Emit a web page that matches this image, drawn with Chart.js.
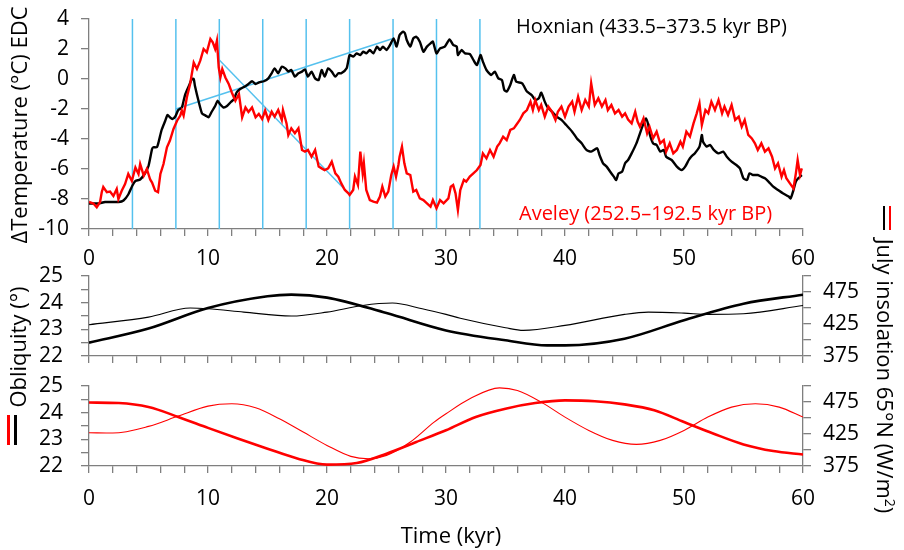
<!DOCTYPE html>
<html>
<head>
<meta charset="utf-8">
<script src="https://cdn.jsdelivr.net/npm/chart.js@4.4.0/dist/chart.umd.min.js"></script>
<style>
	body { margin: 0; background: #fff; width: 904px; height: 550px; position: relative; overflow: hidden; font-family: "Open Sans", sans-serif; }
	canvas { position: absolute; left: 0; }
	.lbl { position: absolute; white-space: nowrap; line-height: 1; }
	.rot { transform: translate(-50%, -50%) rotate(-90deg); font-size: 22px; }
	.rotR { transform: translate(-50%, -50%) rotate(90deg); font-size: 22px; }
	.bar { position: absolute; }
</style>
</head>
<body>
<canvas id="temp" width="904" height="275" style="top:0"></canvas>
<canvas id="mid" width="904" height="110" style="top:256px"></canvas>
<canvas id="bot" width="904" height="184" style="top:366px"></canvas>

<div class="lbl" style="left:516px;top:16px;font-size:20px;color:#000">Hoxnian (433.5–373.5 kyr BP)</div>
<div class="lbl" style="left:519px;top:203px;font-size:20px;color:#f00">Aveley (252.5–192.5 kyr BP)</div>
<div class="lbl rot" style="left:18px;top:125px">ΔTemperature (°C) EDC</div>
<div class="lbl rot" style="left:17px;top:347px">Obliquity (°)</div>
<div class="bar" style="left:7px;top:415px;width:3px;height:30px;background:#f00"></div>
<div class="bar" style="left:14px;top:415px;width:3px;height:30px;background:#000"></div>
<div class="lbl rotR" style="left:886px;top:376px">July insolation 65°N (W/m<sup style="font-size:14px;vertical-align:8px;line-height:0">2</sup>)</div>
<div class="bar" style="left:883px;top:206px;width:2px;height:24px;background:#000"></div>
<div class="bar" style="left:889px;top:206px;width:2px;height:24px;background:#f00"></div>
<div class="lbl" style="left:451px;top:534px;font-size:22px;transform:translate(-50%,-50%)">Time (kyr)</div>

<script>
// EDC temperature anomaly, [time kyr, deg C]
var hoxnianTemp = [
	[0,-8.3],[0.8,-8.3],[1.35,-8.2],[2.5,-8.2],[2.9,-8.1],[3.3,-7.7],[3.65,-7.1],[3.9,-6.8],[4.3,-6.7],[4.7,-6.3],
	[5.0,-5.8],[5.3,-4.67],[5.4,-4.55],[5.7,-4.55],[5.85,-4.2],[6.1,-3.4],[6.4,-2.8],[6.6,-2.4],[6.8,-2.55],[7.0,-2.67],
	[7.25,-2.5],[7.5,-2.07],[7.8,-1.9],[7.95,-1.45],[8.1,-1.0],[8.4,-0.45],[8.65,0.0],[8.8,0.0],[8.9,-0.45],[9.2,-1.45],
	[9.5,-2.3],[9.8,-2.44],[10.05,-2.55],[10.3,-2.2],[10.6,-1.8],[10.8,-1.45],[11.0,-1.67],[11.3,-1.9],[11.6,-1.8],[11.9,-1.55],
	[12.2,-1.33],[12.4,-0.9],[12.7,-0.67],[13.1,-0.5],[13.4,-0.33],[13.7,-0.15],[14.0,-0.33],[14.3,-0.22],[14.7,-0.15],
	[15.07,0.04],[15.35,0.38],[15.6,0.71],[15.9,0.38],[16.2,0.82],[16.5,0.71],[16.75,0.49],[17.0,0.6],[17.3,0.16],[17.6,0.38],
	[17.9,0.49],[18.15,0.64],[18.4,0.16],[18.7,0.49],[19.0,0.04],[19.3,-0.07],[19.55,0.6],[19.8,0.16],[20.1,0.71],[20.4,0.49],
	[20.7,0.16],[20.95,0.38],[21.2,0.38],[21.65,0.71],[21.9,1.6],[22.2,1.49],[22.5,1.71],[22.8,1.6],[23.05,1.82],[23.3,1.71],
	[23.6,1.93],[23.9,1.71],[24.2,2.16],[24.45,1.93],[24.7,2.16],[25.0,1.93],[25.3,2.27],[25.6,2.71],[25.85,2.16],[26.1,2.93],
	[26.4,3.16],[26.55,3.04],[26.7,2.6],[27.0,2.16],[27.25,2.71],[27.5,2.82],[27.8,2.49],[28.1,1.82],[28.4,2.16],[28.7,2.38],
	[28.9,2.49],[29.2,1.71],[29.5,2.04],[29.9,2.16],[30.3,2.64],[30.6,2.27],[30.9,2.16],[31.0,1.6],[31.3,1.93],[31.6,1.71],
	[32.0,1.67],[32.3,1.27],[32.6,0.93],[32.9,1.6],[33.1,1.16],[33.4,0.6],[33.8,0.27],[34.1,0.49],[34.4,0.04],[34.7,-0.07],
	[34.9,-0.73],[35.1,-0.84],[35.4,-0.4],[35.7,0.27],[35.9,-0.18],[36.4,-0.29],[36.8,-0.84],[37.2,-1.07],[37.5,-1.4],[37.8,-1.29],
	[38.0,-0.91],[38.3,-1.51],[38.5,-1.84],[38.9,-2.18],[39.3,-2.51],[39.7,-2.73],[40.1,-3.07],[40.6,-3.51],[41.0,-3.96],[41.4,-4.29],
	[41.8,-4.73],[42.2,-4.84],[42.7,-4.62],[42.9,-5.07],[43.2,-5.62],[43.5,-5.84],[43.8,-6.18],[44.1,-6.51],[44.3,-6.73],[44.5,-6.29],
	[44.8,-6.18],[45.05,-5.62],[45.3,-5.4],[45.6,-4.96],[46.0,-4.29],[46.3,-3.62],[46.6,-2.96],[46.8,-2.62],[47.0,-3.07],[47.1,-3.62],
	[47.4,-4.29],[47.7,-4.4],[48.0,-4.84],[48.3,-4.73],[48.5,-5.18],[48.96,-5.4],[49.4,-5.84],[49.8,-6.07],[50.1,-5.84],[50.4,-5.4],
	[50.6,-5.18],[50.9,-4.96],[51.3,-4.51],[51.5,-3.73],[51.6,-4.18],[51.9,-4.51],[52.2,-4.4],[52.5,-4.73],[52.9,-4.96],[53.3,-4.84],
	[53.6,-5.18],[54.0,-5.51],[54.4,-5.73],[54.7,-5.96],[55.0,-6.62],[55.3,-6.73],[55.5,-6.29],[55.8,-6.4],[56.2,-6.4],[56.5,-6.51],
	[56.8,-6.62],[57.1,-6.84],[57.5,-7.18],[57.9,-7.4],[58.3,-7.62],[58.8,-7.84],[58.96,-7.96],[59.2,-7.4],[59.4,-6.84],[59.6,-6.62],
	[59.9,-6.4]
];

var aveleyTemp = [
	[0,-8.2],[0.37,-8.3],[0.65,-8.55],[0.93,-8.2],[1.07,-7.55],[1.2,-7.2],[1.5,-7.55],[1.77,-7.5],[2.05,-7.8],[2.33,-7.33],
	[2.47,-8.0],[2.75,-7.45],[3.03,-7.0],[3.3,-6.33],[3.6,-6.8],[3.9,-5.9],[4.16,-6.33],[4.3,-5.67],[4.6,-6.44],[4.86,-6.0],
	[5.14,-6.7],[5.3,-6.9],[5.56,-7.45],[5.8,-7.55],[6.0,-6.33],[6.26,-5.67],[6.55,-4.55],[6.8,-4.1],[7.1,-3.33],[7.4,-2.78],
	[7.67,-2.44],[7.8,-2.1],[7.95,-2.44],[8.23,-1.2],[8.5,-0.33],[8.8,1.1],[9.07,0.67],[9.35,1.22],[9.63,2.0],[9.9,1.78],
	[10.2,2.67],[10.4,2.44],[10.6,2.0],[10.75,2.55],[10.9,0.78],[11.04,0.1],[11.2,0.67],[11.46,0.1],[11.74,-0.33],[12.0,-0.9],
	[12.3,-1.45],[12.6,-1.0],[12.87,-2.55],[13.15,-1.9],[13.4,-2.2],[13.7,-1.9],[14.0,-2.55],[14.27,-2.33],[14.55,-2.67],[14.8,-2.1],
	[15.07,-2.73],[15.35,-2.18],[15.6,-2.51],[15.9,-2.07],[16.2,-2.73],[16.3,-2.07],[16.6,-2.96],[16.75,-3.73],[17.0,-3.29],[17.3,-3.62],
	[17.6,-3.29],[17.9,-4.73],[18.15,-4.84],[18.4,-4.73],[18.7,-5.18],[19.0,-4.73],[19.3,-5.84],[19.55,-5.96],[19.8,-6.07],[20.1,-5.96],
	[20.4,-5.51],[20.7,-6.29],[20.95,-6.51],[21.2,-6.96],[21.5,-7.4],[21.8,-7.62],[21.9,-7.73],[22.2,-7.4],[22.35,-6.51],[22.6,-7.07],
	[22.8,-4.84],[23.0,-6.29],[23.1,-5.62],[23.3,-7.4],[23.6,-8.07],[23.9,-8.18],[24.2,-8.24],[24.45,-7.84],[24.65,-7.18],[24.9,-7.84],
	[25.15,-7.51],[25.4,-6.4],[25.6,-5.84],[25.8,-6.51],[26.0,-5.73],[26.1,-5.18],[26.3,-4.51],[26.5,-5.62],[26.7,-6.29],[27.0,-6.4],
	[27.25,-7.51],[27.5,-7.4],[27.8,-7.96],[28.1,-8.07],[28.4,-8.29],[28.7,-8.51],[28.9,-8.07],[29.2,-8.62],[29.5,-8.07],[29.8,-8.29],
	[30.2,-7.96],[30.4,-7.18],[30.6,-7.07],[30.8,-7.62],[31.0,-8.73],[31.2,-7.4],[31.5,-6.73],[31.7,-6.84],[32.0,-6.51],[32.3,-6.29],
	[32.6,-6.07],[32.9,-5.73],[33.1,-4.96],[33.4,-5.29],[33.7,-4.73],[34.0,-5.18],[34.3,-4.51],[34.5,-4.29],[34.8,-3.84],[35.1,-4.07],
	[35.4,-3.4],[35.7,-3.29],[35.9,-3.07],[36.2,-2.73],[36.5,-2.29],[36.8,-2.07],[37.1,-1.51],[37.3,-2.07],[37.5,-1.4],[37.8,-2.07],
	[38.0,-1.73],[38.3,-2.51],[38.6,-1.84],[38.9,-2.18],[39.2,-2.73],[39.4,-2.18],[39.7,-1.84],[40.0,-2.51],[40.3,-1.84],[40.6,-1.51],
	[40.8,-2.18],[41.1,-1.18],[41.4,-2.07],[41.7,-1.4],[42.0,-1.84],[42.2,-0.29],[42.5,-1.73],[42.8,-1.29],[43.1,-1.84],[43.4,-1.4],
	[43.6,-2.07],[43.9,-1.73],[44.2,-2.29],[44.5,-2.07],[44.8,-2.51],[45.05,-2.29],[45.3,-2.7],[45.6,-2.96],[45.9,-2.18],[46.1,-2.84],
	[46.3,-3.18],[46.6,-2.62],[46.9,-3.62],[47.1,-3.18],[47.4,-3.96],[47.7,-3.51],[48.0,-4.29],[48.3,-4.07],[48.5,-4.84],[48.8,-4.29],
	[49.1,-4.96],[49.4,-4.73],[49.7,-4.18],[49.9,-4.51],[50.2,-3.51],[50.5,-3.84],[50.8,-2.96],[51.07,-2.29],[51.3,-1.62],[51.5,-3.07],
	[51.8,-2.07],[52.04,-2.29],[52.3,-1.51],[52.6,-2.07],[52.9,-1.4],[53.2,-2.29],[53.4,-1.84],[53.7,-2.4],[54.0,-1.73],[54.3,-2.73],
	[54.6,-2.51],[54.85,-3.18],[55.1,-2.73],[55.4,-3.73],[55.7,-3.96],[55.96,-4.29],[56.2,-4.73],[56.5,-4.29],[56.8,-4.84],[57.1,-4.62],
	[57.4,-5.18],[57.65,-5.96],[57.9,-5.62],[58.2,-6.51],[58.4,-6.07],[58.6,-6.62],[58.9,-6.96],[59.2,-7.29],[59.4,-6.29],[59.55,-5.4],
	[59.75,-6.4],[59.9,-5.96]
];

// precession cycle markers and warming/cooling trend segments
var cycleLines = [3.65, 7.3, 10.95, 14.6, 18.25, 21.9, 25.55, 29.2, 32.85];
var hoxnianTrend = [[7.3,-2.0],[25.55,2.7]];
var aveleyTrend = [[10.95,1.27],[21.9,-7.7]];

// orbital parameters, Hoxnian window: obliquity (deg) and July 65N insolation (W/m2)
var hoxObliquity = [[0,22.5],[5,23.03],[10,23.8],[15,24.24],[17,24.3],[20,24.19],[25,23.61],[30,22.96],[35,22.59],[38.5,22.4],[40,22.4],[45,22.65],[50,23.34],[55,23.96],[60,24.3]];
var hoxInsolation = [[0,423.9],[5,435.8],[8.5,449.9],[10,448.8],[13,443.6],[17,437.4],[20,443.6],[23,454],[25.5,457.7],[28,448.8],[30,440],[31.2,434],[35,419.2],[36.5,415],[40,422.8],[45,440],[47,443.6],[50,442],[52,440],[55,441],[60,454]];

// Aveley window
var aveObliquity = [[0,24.38],[2.5,24.36],[5,24.21],[7.5,23.84],[10,23.43],[12.5,23.03],[15,22.65],[17.5,22.28],[20,22.05],[22.5,22.11],[25,22.46],[27.5,22.9],[30,23.34],[32.5,23.84],[35,24.15],[37.5,24.36],[40,24.46],[42.5,24.43],[45,24.31],[47.5,24.09],[50,23.65],[52.5,23.21],[55,22.81],[57.5,22.56],[60,22.43]];
var aveInsolation = [[0,427],[2,426.5],[5,436.9],[7.5,453],[10,468.6],[12,472.2],[14,466],[16,448.8],[18,428],[20,407.2],[22,390],[23.5,386.4],[25,391.6],[27,412.4],[29,443.6],[30,456.6],[32,480],[34.5,497],[36,493],[38,474.8],[40,451.4],[42,430.6],[44,415],[46,408.8],[48,415],[50,430.6],[52,451.4],[54,467],[56,472.2],[58,467],[60,451.4]];

var timeTicks = { min: 0, max: 60, step: 2, label: 10 };

var axisGray = '#7f7f7f',
	blue = '#55c1ee',
	tickFont = { family: 'Open Sans', size: 21 };

Chart.defaults.font.family = 'Open Sans';
Chart.defaults.color = '#000';

function pts(arr){
	return arr.map(p => ({ x: p[0], y: p[1] }));
}
// pin the axis boxes so the plot areas line up across the three canvases
function fixWidth(w){
	return function(scale){ scale.width = w; scale.paddingTop = 0; scale.paddingBottom = 0; };
}
function fixHeight(h){
	return function(scale){ scale.height = h; scale.paddingLeft = 0; scale.paddingRight = 0; };
}

function timeAxis(height, labels, pad){
	return {
		type: 'linear', min: timeTicks.min, max: timeTicks.max,
		afterFit: fixHeight(height),
		border: { color: axisGray, width: 1.3 },
		grid: { drawOnChartArea: false, tickLength: 7, color: axisGray, lineWidth: 1.3 },
		ticks: {
			stepSize: timeTicks.step, autoSkip: false, maxRotation: 0, padding: pad,
			display: labels, font: tickFont, color: '#000',
			callback: v => (v % timeTicks.label === 0 ? v : '')
		}
	};
}

function valueAxis(pos, min, max, step, width, pad, show){
	return {
		type: 'linear', position: pos, min: min, max: max,
		afterFit: fixWidth(width),
		border: { color: axisGray, width: 1.3 },
		grid: { drawOnChartArea: false, tickLength: 8, color: axisGray, lineWidth: 1.3 },
		ticks: { stepSize: step, autoSkip: false, padding: pad, font: tickFont, color: '#000',
			callback: v => (show(v) ? v : '') }
	};
}

var common = {
	responsive: false,
	animation: false,
	events: [],
	plugins: { legend: { display: false }, tooltip: { enabled: false } },
	elements: { point: { radius: 0 } }
};

// temperature panel
var tempSets = cycleLines.map(t => ({
	data: [{ x: t, y: -10 }, { x: t, y: 4 }],
	borderColor: blue, borderWidth: 1.5, order: 4
}));
tempSets.push({ data: pts(hoxnianTrend), borderColor: blue, borderWidth: 1.5, order: 3 });
tempSets.push({ data: pts(aveleyTrend), borderColor: blue, borderWidth: 1.5, order: 3 });
tempSets.push({ data: pts(hoxnianTemp), borderColor: '#000', borderWidth: 2.4, tension: 0.2, order: 2 });
tempSets.push({ data: pts(aveleyTemp), borderColor: '#f00', borderWidth: 2.4, order: 1 });

new Chart(document.getElementById('temp'), {
	type: 'line',
	data: { datasets: tempSets },
	options: Object.assign({}, common, {
		layout: { padding: { top: 19, right: 101, left: 0, bottom: 0 } },
		scales: {
			x: timeAxis(46, true, 10),
			y: valueAxis('left', -10, 4, 2, 89, 12, () => true)
		}
	})
});

function orbitChart(id, color, obl, ins, xHeight, xLabels, xPad){
	new Chart(document.getElementById(id), {
		type: 'line',
		data: { datasets: [
			{ data: pts(obl), yAxisID: 'yObl', borderColor: color, borderWidth: 2.6, cubicInterpolationMode: 'monotone' },
			{ data: pts(ins), yAxisID: 'yIns', borderColor: color, borderWidth: 1.1, cubicInterpolationMode: 'monotone' }
		] },
		options: Object.assign({}, common, {
			layout: { padding: { top: 20, right: 0, left: 0, bottom: 0 } },
			scales: {
				x: timeAxis(xHeight, xLabels, xPad),
				yObl: valueAxis('left', 22, 25, 0.5, 89, 18, v => Number.isInteger(v)),
				yIns: valueAxis('right', 375, 500, 25, 101, 12, v => v % 50 === 25)
			}
		})
	});
}

orbitChart('mid', '#000', hoxObliquity, hoxInsolation, 10, false, 0);
orbitChart('bot', '#f00', aveObliquity, aveInsolation, 84, true, 13);
</script>
</body>
</html>
